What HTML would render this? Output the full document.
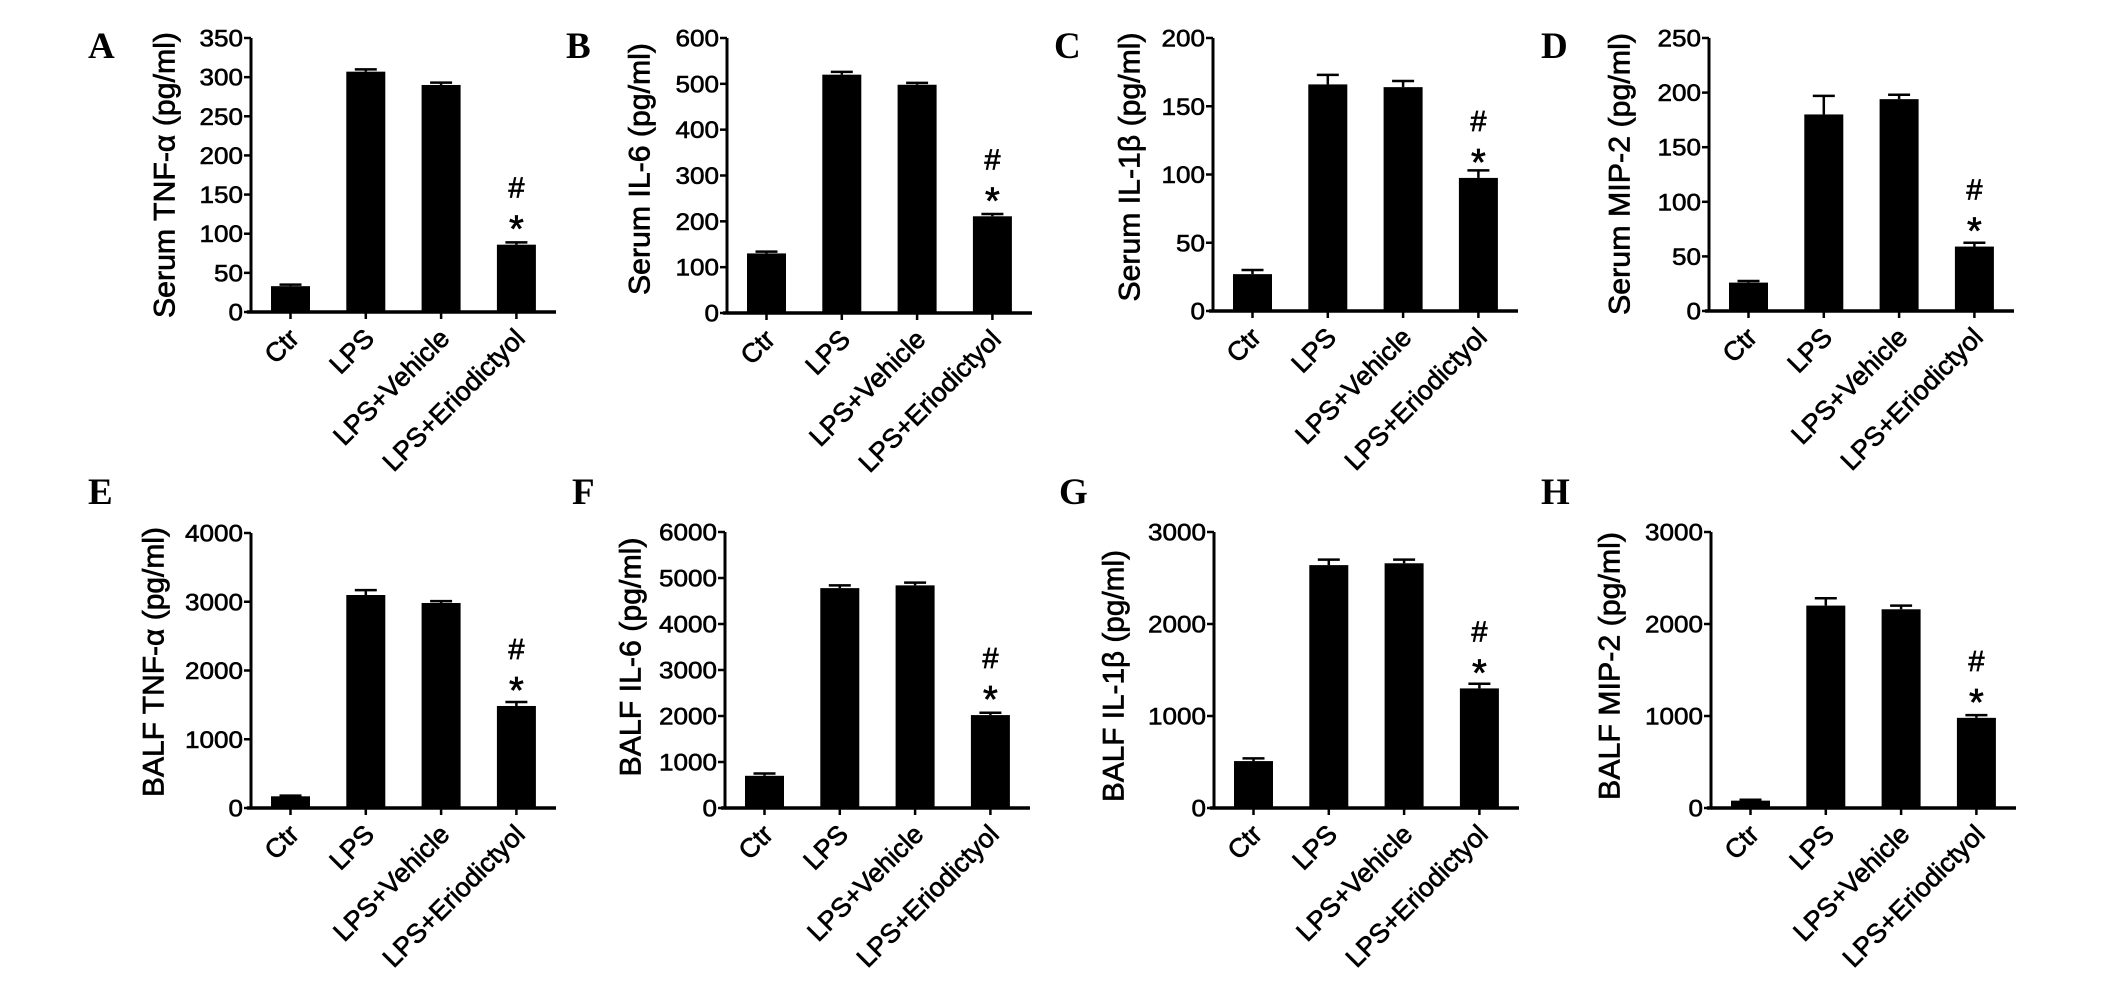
<!DOCTYPE html>
<html><head><meta charset="utf-8"><style>html,body{margin:0;padding:0;background:#fff}svg{display:block}</style></head>
<body>
<svg id="s" xmlns="http://www.w3.org/2000/svg" width="2126" height="997" viewBox="0 0 2126 997"></svg>
<script>
const P=[
{ax:251,top:38,zero:312,max:350,step:50,L:'A',lx:88,ly:58,t:'Serum TNF-α (pg/ml)',tl:286,tc:175,tx:-86,v:[[33,35],[307,310],[290,293],[86,89]]},
{ax:727,top:38,zero:313,max:600,step:100,L:'B',lx:566,ly:58,t:'Serum IL-6 (pg/ml)',tl:252,tc:169,tx:-87,v:[[130,134],[520,526],[498,502],[211,216]]},
{ax:1213,top:38,zero:311,max:200,step:50,L:'C',lx:1054,ly:58,t:'Serum IL-1β (pg/ml)',tl:269,tc:167,tx:-83,v:[[27,30],[166,173],[164,168.5],[97.5,103]]},
{ax:1709,top:38,zero:311,max:250,step:50,L:'D',lx:1541,ly:58,t:'Serum MIP-2 (pg/ml)',tl:282,tc:174,tx:-89,v:[[26,27.5],[180,197],[194,198],[59,62.5]]},
{ax:251,top:533,zero:808,max:4000,step:1000,L:'E',lx:88,ly:504,t:'BALF TNF-α (pg/ml)',tl:270,tc:662,tx:-97,v:[[170,180],[3098,3170],[2982,3010],[1484,1542]]},
{ax:725,top:532,zero:808,max:6000,step:1000,L:'F',lx:572,ly:504,t:'BALF IL-6 (pg/ml)',tl:239,tc:657,tx:-94,v:[[700,750],[4780,4840],[4840,4900],[2020,2070]]},
{ax:1214,top:532,zero:808,max:3000,step:1000,L:'G',lx:1059,ly:504,t:'BALF IL-1β (pg/ml)',tl:252,tc:676,tx:-100,v:[[510,540],[2640,2700],[2660,2700],[1300,1350]]},
{ax:1711,top:532,zero:808,max:3000,step:1000,L:'H',lx:1541,ly:504,t:'BALF MIP-2 (pg/ml)',tl:268,tc:666,tx:-101,v:[[80,90],[2200,2280],[2160,2200],[980,1010]]}
];
const names=['Ctr','LPS','LPS+Vehicle','LPS+Eriodictyol'];
let h='';
const F='font-family="Liberation Sans, Arial, sans-serif" stroke="#000" stroke-width="0.7"';
for(const p of P){
 const sc=(p.zero-p.top)/p.max, Y=v=>p.zero-v*sc;
 h+=`<text x="${p.lx}" y="${p.ly}" font-family="Liberation Serif, serif" font-weight="bold" font-size="37">${p.L}</text>`;
 h+=`<line x1="${p.ax}" y1="${p.top}" x2="${p.ax}" y2="${p.zero+1.5}" stroke="#000" stroke-width="3"/>`;
 h+=`<line x1="${p.ax-4}" y1="${p.zero}" x2="${p.ax+305}" y2="${p.zero}" stroke="#000" stroke-width="3.5"/>`;
 for(let t=0;t<=p.max;t+=p.step){
  const y=Y(t),s=String(t);
  h+=`<line x1="${p.ax-7}" y1="${y}" x2="${p.ax}" y2="${y}" stroke="#000" stroke-width="2.5"/>`;
  h+=`<text x="${p.ax-8}" y="${y+8.5}" text-anchor="end" font-size="24" font-family="Liberation Sans, Arial, sans-serif" stroke="#000" stroke-width="0.6" textLength="${s.length*14.5}" lengthAdjust="spacingAndGlyphs">${s}</text>`;
 }
 const tx=p.ax+p.tx;
 h+=`<text x="${tx}" y="${p.tc}" transform="rotate(-90 ${tx} ${p.tc})" text-anchor="middle" dominant-baseline="central" font-size="30" ${F} textLength="${p.tl}" lengthAdjust="spacingAndGlyphs">${p.t}</text>`;
 p.v.forEach((b,i)=>{
  const cx=p.ax+39.5+75.3*i, yt=Y(b[0]), ye=Y(b[1]);
  h+=`<rect x="${cx-19.5}" y="${yt}" width="39" height="${p.zero-yt}" fill="#000"/>`;
  h+=`<line x1="${cx}" y1="${ye}" x2="${cx}" y2="${yt}" stroke="#000" stroke-width="2.5"/>`;
  h+=`<line x1="${cx-11}" y1="${ye}" x2="${cx+11}" y2="${ye}" stroke="#000" stroke-width="2.5"/>`;
  h+=`<line x1="${cx}" y1="${p.zero}" x2="${cx}" y2="${p.zero+7}" stroke="#000" stroke-width="2.5"/>`;
  const px=cx+10,py=p.zero+28;
  h+=`<text x="${px}" y="${py}" transform="rotate(-45 ${px} ${py})" text-anchor="end" font-size="26.5" ${F}>${names[i]}</text>`;
  if(i==3){
   h+=`<text x="${cx}" y="${yt-47}" text-anchor="middle" font-size="29" ${F}>#</text>`;
   h+=`<text x="${cx}" y="${yt-3}" text-anchor="middle" font-size="38" ${F}>*</text>`;
  }
 });
}
document.getElementById('s').innerHTML=h;
</script>
</body></html>
